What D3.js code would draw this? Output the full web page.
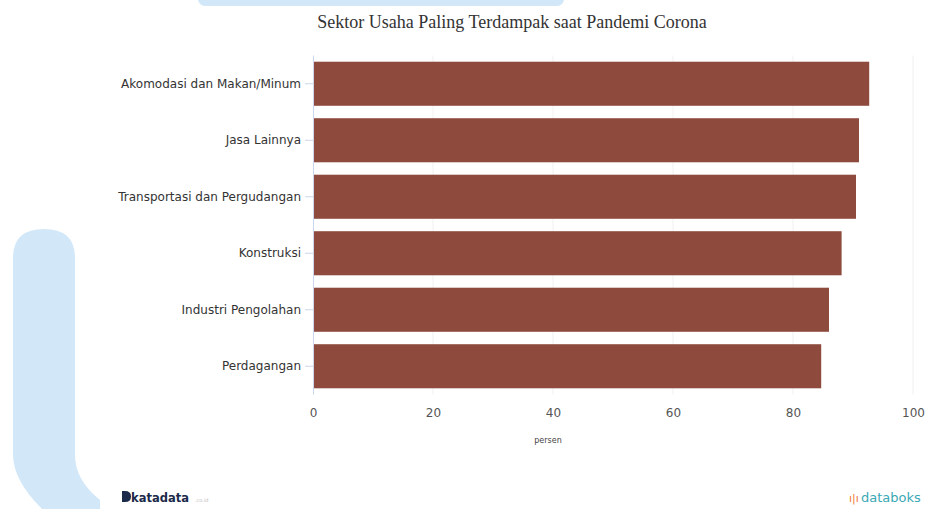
<!DOCTYPE html>
<html><head><meta charset="utf-8">
<script src="https://cdn.jsdelivr.net/npm/d3@7"></script>
<style>body{margin:0;background:#fff;}svg{display:block;}</style>
</head><body>
<svg id="c" width="926" height="509"></svg>
<script>
const categories = ["Akomodasi dan Makan/Minum","Jasa Lainnya","Transportasi dan Pergudangan","Konstruksi","Industri Pengolahan","Perdagangan"];
const values = [92.7, 91.0, 90.5, 88.1, 86.0, 84.7];
const xTicks = [0, 20, 40, 60, 80, 100];
const title = "Sektor Usaha Paling Terdampak saat Pandemi Corona";
const xTitle = "persen";

const svg = d3.select("#c");
const pL = 313, pR = 913, pT = 55.5, pB = 394.5;

// decorative background shapes
svg.append("rect").attr("x", 198).attr("y", -8).attr("width", 366).attr("height", 14)
  .attr("rx", 7).attr("fill", "#d2e8f9");
svg.append("path")
  .attr("d", "M13,258 Q13,229 44,229 Q75,229 75,258 L75,455 Q75,480 100,500 L100,509 L42,509 Q13,480 13,455 Z")
  .attr("fill", "#d2e8f9");

const x = d3.scaleLinear().domain([0, 100]).range([pL, pR]);
const y = d3.scaleBand().domain(categories).range([pT, pB]).paddingInner(0.22).paddingOuter(0.11);

// grid
svg.append("g").selectAll("line").data(xTicks.slice(1)).join("line")
  .attr("x1", d => x(d)).attr("x2", d => x(d)).attr("y1", pT).attr("y2", pB)
  .attr("stroke", "#f0f0f0").attr("stroke-width", 1);

// bars
svg.append("g").selectAll("rect").data(categories).join("rect")
  .attr("x", x(0)).attr("y", d => y(d))
  .attr("width", (d, i) => x(values[i]) - x(0)).attr("height", y.bandwidth())
  .attr("fill", "#8d4a3d");

// y axis
const ya = svg.append("g").attr("transform", `translate(${pL},0)`)
  .call(d3.axisLeft(y).tickSize(8).tickPadding(4));
ya.select(".domain").attr("stroke", "#ccd6eb").attr("d", `M0.5,${pT}V${pB}`);
ya.selectAll(".tick line").attr("stroke", "#ccd6eb");
ya.selectAll("text").attr("font-family", "DejaVu Sans, Verdana, sans-serif")
  .attr("font-size", "12px").attr("fill", "#333");

// x axis
const xa = svg.append("g").attr("transform", `translate(0,${pB})`)
  .call(d3.axisBottom(x).tickValues(xTicks).tickSize(0).tickPadding(14));
xa.select(".domain").remove();
xa.selectAll("text").attr("font-family", "DejaVu Sans, Verdana, sans-serif")
  .attr("font-size", "12px").attr("fill", "#555");

svg.append("text").attr("x", 548).attr("y", 443).attr("text-anchor", "middle")
  .attr("font-family", "DejaVu Sans, Verdana, sans-serif").attr("font-size", "8px")
  .attr("fill", "#444").text(xTitle);

// title
svg.append("text").attr("x", 512).attr("y", 28).attr("text-anchor", "middle")
  .attr("font-family", "Liberation Serif, Times New Roman, serif").attr("font-size", "18px")
  .attr("fill", "#333").text(title);

// logos
const lg = svg.append("g");
lg.append("path").attr("d", "M122,491 h3 q6,0 6,5.5 q0,5.5 -6,5.5 h-3 Z").attr("fill", "#1b2a4a");
lg.append("text").attr("x", 131).attr("y", 502).attr("font-family", "DejaVu Sans, sans-serif")
  .attr("font-size", "11.5px").attr("font-weight", "600").attr("fill", "#1b2a4a").text("katadata");
lg.append("text").attr("x", 195).attr("y", 502).attr("font-family", "DejaVu Sans, sans-serif")
  .attr("font-size", "5px").attr("fill", "#bbb").text(".co.id");
lg.append("text").attr("x", 849).attr("y", 502).attr("font-family", "DejaVu Sans, sans-serif")
  .attr("font-size", "11px").attr("fill", "#f07a3a").text("\u0131|\u0131");
lg.append("text").attr("x", 861).attr("y", 502).attr("font-family", "DejaVu Sans, sans-serif")
  .attr("font-size", "13px").attr("fill", "#3aa8b5").text("databoks");
</script>
</body></html>
